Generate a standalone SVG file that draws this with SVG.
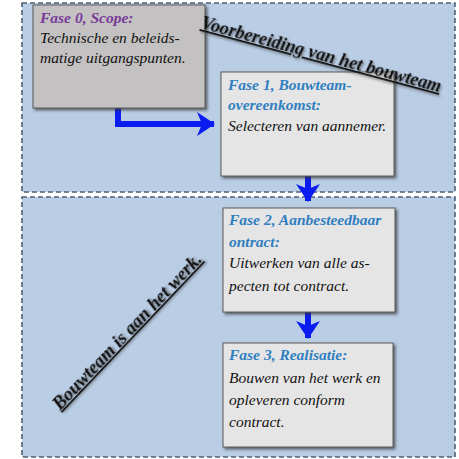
<svg xmlns="http://www.w3.org/2000/svg" width="459" height="459" viewBox="0 0 459 459">
<defs>
<style>
.region{fill:#b9cde5;stroke:#4f6076;stroke-width:1.6;stroke-dasharray:5 3}
.box0{fill:#c3c1c1;stroke:#5a5a5a;stroke-width:1}
.box{fill:#e5e5e6;stroke:#5a5a5a;stroke-width:1}
.t{font-family:"Liberation Serif","DejaVu Serif",serif;font-style:italic;font-size:15.5px;fill:#111}
.h{font-weight:bold;font-size:15.5px}
.p{fill:#7a3a9a}
.b{fill:#2f7fc0}
.con{fill:none;stroke:#0a1cf0;stroke-width:6}
.diag{font-family:"Liberation Serif","DejaVu Serif",serif;font-style:italic;font-weight:bold;font-size:18px;fill:#111;text-decoration:underline}
</style>
<filter id="sh" x="-10%" y="-10%" width="130%" height="130%">
<feDropShadow dx="2" dy="2" stdDeviation="1.5" flood-color="#333" flood-opacity="0.7"/>
</filter>
<filter id="tsh" x="-10%" y="-30%" width="130%" height="180%">
<feDropShadow dx="1.5" dy="1.5" stdDeviation="1" flood-color="#444" flood-opacity="0.6"/>
</filter>
<marker id="ah" markerUnits="userSpaceOnUse" markerWidth="24" markerHeight="28" refX="19" refY="14" orient="auto">
<path d="M2,2 L20,14 L2,26 L7,14 Z" fill="#0a1cf0"/>
</marker>
</defs>
<rect width="459" height="459" fill="#ffffff"/>
<g id="region-top">
<rect class="region" x="22" y="3" width="433" height="189"/>
</g>
<g id="region-bottom">
<rect class="region" x="22" y="197" width="433" height="260"/>
</g>
<g id="connectors">
<path class="con" d="M118,108 L118,124 L214,124" marker-end="url(#ah)"/>
<path class="con" d="M308,176 L308,201" marker-end="url(#ah)"/>
<path class="con" d="M308,312 L308,338" marker-end="url(#ah)"/>
</g>
<g id="fase0">
<rect class="box0" x="33" y="5" width="172" height="103" filter="url(#sh)"/>
<text class="t" x="40" y="23"><tspan class="h p">Fase 0, Scope:</tspan></text>
<text class="t" x="40" y="43">Technische en beleids-</text>
<text class="t" x="40" y="63">matige uitgangspunten.</text>
</g>
<g id="fase1">
<rect class="box" x="221" y="72" width="173" height="104" filter="url(#sh)"/>
<text class="t" x="228" y="90"><tspan class="h b">Fase 1, Bouwteam-</tspan></text>
<text class="t" x="228" y="110"><tspan class="h b">overeenkomst:</tspan></text>
<text class="t" x="228" y="131">Selecteren van aannemer.</text>
</g>
<g id="fase2">
<rect class="box" x="223" y="208" width="172" height="104" filter="url(#sh)"/>
<text class="t" x="229" y="225"><tspan class="h b">Fase 2, Aanbesteedbaar</tspan></text>
<text class="t" x="229" y="247"><tspan class="h b">ontract:</tspan></text>
<text class="t" x="229" y="268">Uitwerken van alle as-</text>
<text class="t" x="229" y="291">pecten tot contract.</text>
</g>
<g id="fase3">
<rect class="box" x="223" y="343" width="170" height="104" filter="url(#sh)"/>
<text class="t" x="229" y="360"><tspan class="h b">Fase 3, Realisatie:</tspan></text>
<text class="t" x="229" y="383">Bouwen van het werk en</text>
<text class="t" x="229" y="405">opleveren conform</text>
<text class="t" x="229" y="427">contract.</text>
</g>
<g id="label-voorbereiding">
<text class="diag" filter="url(#tsh)" transform="translate(200,28) rotate(15)" textLength="248" lengthAdjust="spacingAndGlyphs">Voorbereiding van het bouwteam</text>
</g>
<g id="label-bouwteam">
<text class="diag" filter="url(#tsh)" transform="translate(60,411) rotate(-46.5)" textLength="208" lengthAdjust="spacingAndGlyphs">Bouwteam is aan het werk.</text>
</g>
</svg>
